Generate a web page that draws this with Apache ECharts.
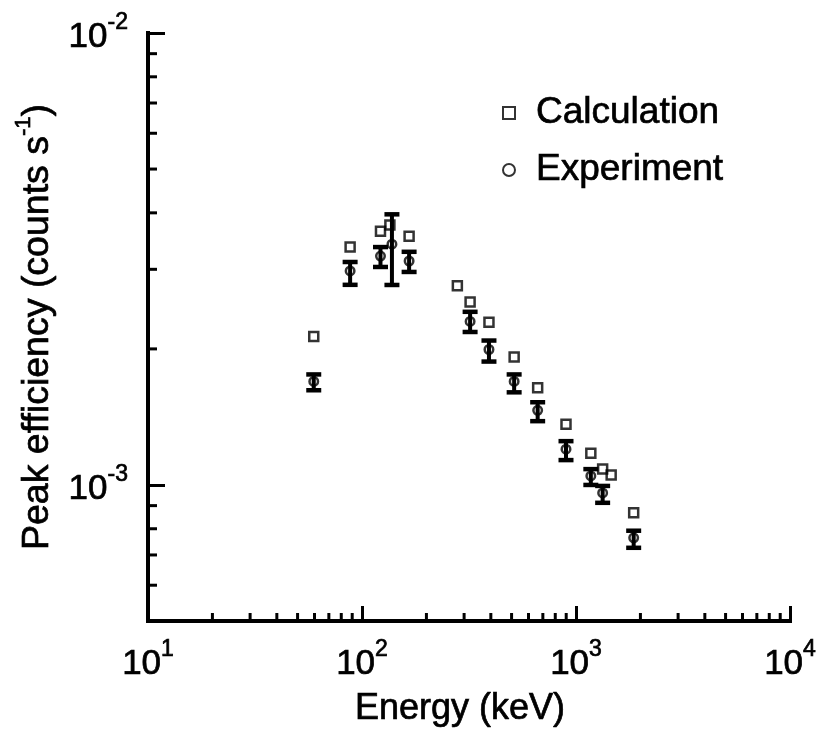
<!DOCTYPE html>
<html>
<head>
<meta charset="utf-8">
<script src="https://cdn.jsdelivr.net/npm/echarts@6/dist/echarts.min.js"></script>
<style>
  html, body { margin: 0; padding: 0; background: #fff; }
  #chart { width: 821px; height: 734px; }
</style>
</head>
<body>
<div id="chart"></div>
<script>
// Gamma-ray line energies (keV) and full-energy peak efficiencies
const calcEnergy = [59.5, 88, 122, 135, 166, 279, 320, 392, 514, 662, 898, 1173, 1332, 1460, 1860];
const calcEff    = [2.13e-3, 3.36e-3, 3.64e-3, 3.76e-3, 3.55e-3, 2.76e-3, 2.54e-3, 2.29e-3,
                    1.92e-3, 1.64e-3, 1.363e-3, 1.176e-3, 1.084e-3, 1.052e-3, 8.68e-4];

const expEnergy = [59.5, 88, 122, 138, 166, 320, 392, 514, 662, 898, 1173, 1332, 1860];
const expEff    = [1.695e-3, 2.975e-3, 3.21e-3, 3.41e-3, 3.13e-3, 2.30e-3, 1.994e-3, 1.695e-3,
                   1.463e-3, 1.200e-3, 1.047e-3, 9.60e-4, 7.64e-4];
const expLow    = [1.620e-3, 2.772e-3, 3.036e-3, 2.77e-3, 2.96e-3, 2.18e-3, 1.875e-3, 1.603e-3,
                   1.384e-3, 1.135e-3, 1.0e-3, 9.13e-4, 7.26e-4];
const expHigh   = [1.756e-3, 3.114e-3, 3.36e-3, 3.97e-3, 3.28e-3, 2.416e-3, 2.087e-3, 1.756e-3,
                   1.524e-3, 1.25e-3, 1.084e-3, 9.95e-4, 7.92e-4];

// Axis ranges and minor tick positions
const xRange = [10, 10000];
const yRange = [5e-4, 1e-2];
const xMinorTicks = [20, 30, 40, 50, 60, 70, 80, 90,
                     200, 300, 400, 500, 600, 700, 800, 900,
                     2000, 3000, 4000, 5000, 6000, 7000, 8000, 9000];
const yMinorTicks = [6e-4, 7e-4, 8e-4, 9e-4,
                     2e-3, 3e-3, 4e-3, 5e-3, 6e-3, 7e-3, 8e-3, 9e-3];

const FONT = '"Liberation Sans", Arial, Helvetica, sans-serif';
// a thin outline gives the lettering a slightly heavier weight
const INK = { color: '#000', textBorderColor: '#000', textBorderWidth: 0.7 };

// "10^n" labels for decade ticks, blank elsewhere
function powerLabel(v) {
  const lg = Math.log10(v);
  const e = Math.round(lg);
  if (Math.abs(lg - e) > 1e-6) return '';
  return '{b|10}{s|' + e + '}';
}
const powerRich = {
  b: Object.assign({ fontSize: 35, lineHeight: 44, fontFamily: FONT, verticalAlign: 'bottom' }, INK),
  s: Object.assign({ fontSize: 23, lineHeight: 27, fontFamily: FONT, verticalAlign: 'top' }, INK)
};

const chart = echarts.init(document.getElementById('chart'), null, { renderer: 'canvas' });

const axisLineStyle = { color: '#000', width: 4, cap: 'square' };

const option = {
  backgroundColor: '#fff',
  animation: false,
  grid: { left: 148, right: 31, top: 33, bottom: 113, containLabel: false, outerBoundsMode: 'none' },
  legend: {
    data: ['Calculation', 'Experiment'],
    orient: 'vertical',
    left: 497,
    top: 88,
    itemWidth: 12,
    itemHeight: 12,
    itemGap: 17,
    textStyle: Object.assign({ fontSize: 37, lineHeight: 40, fontFamily: FONT, padding: [0, 0, 0, 16] }, INK)
  },
  xAxis: {
    type: 'log',
    logBase: 10,
    min: xRange[0],
    max: xRange[1],
    axisLine: { lineStyle: axisLineStyle },
    axisTick: { inside: true, length: 15, lineStyle: { color: '#000', width: 3 } },
    splitLine: { show: false },
    axisLabel: { margin: 17, formatter: powerLabel, rich: powerRich },
    name: 'Energy (keV)',
    nameLocation: 'middle',
    nameGap: 61,
    nameTextStyle: Object.assign({ fontSize: 36, lineHeight: 44, fontFamily: FONT, padding: [0, 18, 0, 0] }, INK)
  },
  yAxis: {
    type: 'log',
    logBase: 10,
    min: yRange[0],
    max: yRange[1],
    axisLine: { lineStyle: axisLineStyle },
    axisTick: { inside: true, length: 17, lineStyle: { color: '#000', width: 3 } },
    splitLine: { show: false },
    axisLabel: { margin: 20, showMinLabel: false, formatter: powerLabel, rich: powerRich },
    name: '{t|Peak efficiency (counts s}{sup|-1}{t|)}',
    nameLocation: 'middle',
    nameGap: 88,
    nameTextStyle: {
      fontFamily: FONT, color: '#000',
      rich: {
        t: Object.assign({ fontSize: 37.5, lineHeight: 44, fontFamily: FONT, verticalAlign: 'bottom' }, INK),
        sup: Object.assign({ fontSize: 22, lineHeight: 24, fontFamily: FONT, verticalAlign: 'top' }, INK)
      }
    }
  },
  series: [
    {
      // minor ticks along the energy axis
      name: 'xMinor',
      type: 'custom',
      silent: true,
      z: 5,
      data: xMinorTicks.map(v => [v, yRange[0]]),
      renderItem: function (params, api) {
        const p = api.coord([api.value(0), api.value(1)]);
        return {
          type: 'line',
          shape: { x1: p[0], y1: p[1], x2: p[0], y2: p[1] - 8 },
          style: { stroke: '#000', lineWidth: 3 }
        };
      }
    },
    {
      // minor ticks along the efficiency axis
      name: 'yMinor',
      type: 'custom',
      silent: true,
      z: 5,
      data: yMinorTicks.map(v => [xRange[0], v]),
      renderItem: function (params, api) {
        const p = api.coord([api.value(0), api.value(1)]);
        return {
          type: 'line',
          shape: { x1: p[0], y1: p[1], x2: p[0] + 9, y2: p[1] },
          style: { stroke: '#000', lineWidth: 3 }
        };
      }
    },
    {
      name: 'Calculation',
      type: 'scatter',
      symbol: 'rect',
      symbolSize: 9,
      z: 3,
      itemStyle: { color: 'rgba(255,255,255,0)', borderColor: '#000', borderWidth: 2.5 },
      data: calcEnergy.map((e, i) => [e, calcEff[i]])
    },
    {
      name: 'Experiment',
      type: 'scatter',
      symbol: 'circle',
      symbolSize: 8.5,
      z: 4,
      itemStyle: { color: 'rgba(255,255,255,0)', borderColor: '#000', borderWidth: 2.5 },
      data: expEnergy.map((e, i) => [e, expEff[i]])
    },
    {
      // measurement uncertainty bars
      name: 'Experiment error',
      type: 'custom',
      z: 4,
      data: expEnergy.map((e, i) => [e, expLow[i], expHigh[i]]),
      renderItem: function (params, api) {
        const lo = api.coord([api.value(0), api.value(1)]);
        const hi = api.coord([api.value(0), api.value(2)]);
        const half = 7.5;
        const st = { stroke: '#000', lineWidth: 4.5 };
        return {
          type: 'group',
          children: [
            { type: 'line', shape: { x1: lo[0], y1: lo[1], x2: hi[0], y2: hi[1] }, style: { stroke: '#000', lineWidth: 4 } },
            { type: 'line', shape: { x1: lo[0] - half, y1: lo[1], x2: lo[0] + half, y2: lo[1] }, style: st },
            { type: 'line', shape: { x1: hi[0] - half, y1: hi[1], x2: hi[0] + half, y2: hi[1] }, style: st }
          ]
        };
      }
    }
  ]
};

chart.setOption(option);
</script>
</body>
</html>
